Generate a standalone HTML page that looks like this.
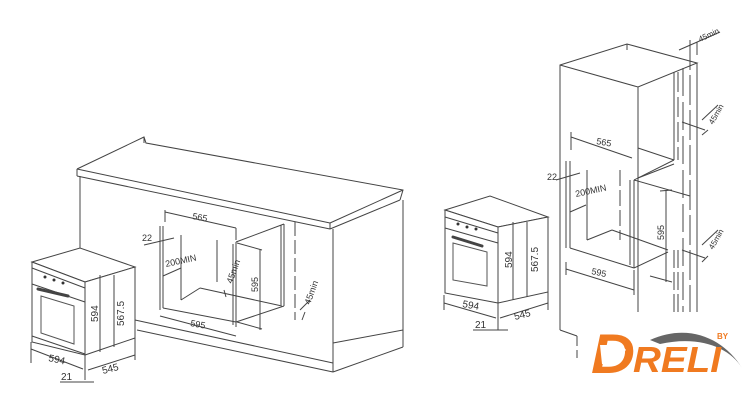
<!DOCTYPE html>
<html><head><meta charset="utf-8"><style>
html,body{margin:0;padding:0;background:#fff;}
svg{display:block}
text{font-family:"Liberation Sans",sans-serif;fill:#333;}
</style></head><body>
<svg width="749" height="412" viewBox="0 0 749 412" xmlns="http://www.w3.org/2000/svg">
<g stroke="#444" stroke-width="1" fill="none">
<!-- LEFT CABINET -->
<polyline points="77,169 144,137 146,143 403,190 400,200"/>
<polyline points="144,137 144,143"/>
<line x1="77" y1="169" x2="330" y2="223"/>
<line x1="77" y1="169" x2="77" y2="176"/>
<line x1="77" y1="176" x2="330" y2="229"/>
<line x1="330" y1="223" x2="330" y2="229"/>
<line x1="330" y1="223" x2="403" y2="190"/>
<line x1="330" y1="229" x2="400" y2="200"/>
<line x1="80" y1="176" x2="80" y2="250"/>
<line x1="333" y1="229" x2="333" y2="372"/>
<line x1="403" y1="200" x2="403" y2="347"/>
<line x1="333" y1="372" x2="403" y2="347"/>
<line x1="135" y1="320" x2="333" y2="363"/>
<line x1="137" y1="330" x2="333" y2="372"/>
<line x1="333" y1="343" x2="403" y2="330"/>
<line x1="135" y1="320" x2="135" y2="338"/>
<!-- niche -->
<line x1="160" y1="226" x2="160" y2="310"/>
<line x1="163" y1="226" x2="163" y2="308"/>
<line x1="181" y1="235" x2="181" y2="300"/>
<line x1="163" y1="308" x2="236" y2="322"/>
<line x1="181" y1="300" x2="200" y2="288"/>
<line x1="200" y1="288" x2="282" y2="306"/>
<line x1="236" y1="242" x2="236" y2="327"/>
<line x1="233" y1="244" x2="233" y2="325"/>
<line x1="236" y1="242" x2="284" y2="224"/>
<line x1="236" y1="322" x2="284" y2="306"/>
<line x1="284" y1="224" x2="284" y2="306"/>
<line x1="281" y1="225" x2="281" y2="305"/>
<line x1="295" y1="222" x2="295" y2="320" stroke-dasharray="14,4"/>
<line x1="217" y1="240" x2="217" y2="282"/>
<line x1="165" y1="212" x2="236" y2="228"/>
<line x1="165" y1="210" x2="165" y2="222"/>
<line x1="236" y1="228" x2="236" y2="240"/>
<line x1="160" y1="316" x2="236" y2="336"/>
<line x1="237" y1="243" x2="262" y2="250"/>
<line x1="237" y1="322" x2="262" y2="329"/>
<line x1="260" y1="249" x2="260" y2="330"/>
<line x1="144" y1="245" x2="174" y2="238"/>
<line x1="163" y1="276" x2="181" y2="268"/>
<line x1="224" y1="290" x2="226" y2="297"/>
<line x1="300" y1="310" x2="310" y2="300"/>
<line x1="302" y1="320" x2="305" y2="312"/>
<!-- LEFT OVEN -->
<polygon points="32,262 80,248 135,267 85,282" fill="#fff"/>
<polygon points="85,282 135,267 135,338 85,355" fill="#fff"/>
<polygon points="32,262 85,282 85,355 32,342" fill="#fff"/>
<line x1="32" y1="268" x2="85" y2="288"/>
<line x1="32" y1="284" x2="85" y2="302"/>
<polygon points="41,296 74,306 74,344 41,333" stroke="#555"/>
<line x1="38" y1="289" x2="68" y2="296" stroke-width="3" stroke-linecap="round"/>
<line x1="32" y1="336" x2="85" y2="354"/>
<line x1="100" y1="275" x2="100" y2="352"/>
<line x1="114" y1="275" x2="114" y2="347"/>
<line x1="31" y1="349" x2="83" y2="369"/>
<line x1="31" y1="342" x2="31" y2="363"/>
<line x1="85" y1="355" x2="85" y2="380"/>
<line x1="88" y1="370" x2="135" y2="355"/>
<line x1="135" y1="338" x2="135" y2="360"/>
<line x1="60" y1="382" x2="94" y2="382"/>
<!-- RIGHT OVEN -->
<polygon points="445,210 490,196 548,217 498,227" fill="#fff"/>
<polygon points="498,227 548,217 548,292 498,303" fill="#fff"/>
<polygon points="445,210 498,227 498,303 445,293" fill="#fff"/>
<line x1="445" y1="217" x2="498" y2="233"/>
<line x1="445" y1="228" x2="498" y2="243"/>
<polygon points="453,243 487,252 487,286 453,280" stroke="#555"/>
<line x1="453" y1="237" x2="482" y2="246" stroke-width="3" stroke-linecap="round"/>
<line x1="513" y1="222" x2="513" y2="300"/>
<line x1="527" y1="222" x2="527" y2="297"/>
<line x1="444" y1="303" x2="496" y2="318"/>
<line x1="444" y1="295" x2="444" y2="310"/>
<line x1="498" y1="303" x2="498" y2="330"/>
<line x1="500" y1="318" x2="548" y2="303"/>
<line x1="548" y1="292" x2="548" y2="310"/>
<line x1="473" y1="330" x2="508" y2="330"/>
<!-- TALL CABINET -->
<polyline points="560,330 560,65 627,44 697,63 638,87 560,65"/>
<line x1="638" y1="87" x2="638" y2="312"/>
<line x1="627" y1="44" x2="627" y2="50"/>
<line x1="560" y1="330" x2="577" y2="336"/>
<line x1="577" y1="336" x2="577" y2="358" stroke-dasharray="10,4"/>
<line x1="678" y1="72" x2="678" y2="160" stroke-dasharray="20,5"/>
<line x1="674" y1="72" x2="674" y2="160"/>
<line x1="683" y1="68" x2="683" y2="312" stroke-dasharray="28,6"/>
<line x1="697" y1="63" x2="697" y2="312"/>
<line x1="690" y1="40" x2="690" y2="312" stroke-dasharray="30,5"/>
<line x1="674" y1="250" x2="674" y2="312" stroke-dasharray="18,4"/>
<line x1="678" y1="250" x2="678" y2="312" stroke-dasharray="18,4"/>
<line x1="566" y1="161" x2="566" y2="248"/>
<line x1="570" y1="161" x2="570" y2="248"/>
<line x1="587" y1="170" x2="587" y2="240"/>
<line x1="570" y1="248" x2="634" y2="268"/>
<line x1="587" y1="240" x2="612" y2="230"/>
<line x1="612" y1="230" x2="668" y2="250"/>
<line x1="630" y1="180" x2="630" y2="265"/>
<line x1="634" y1="180" x2="634" y2="268"/>
<line x1="634" y1="180" x2="674" y2="160"/>
<line x1="638" y1="178" x2="674" y2="164"/>
<line x1="638" y1="148" x2="674" y2="160"/>
<line x1="634" y1="268" x2="668" y2="252"/>
<line x1="634" y1="180" x2="690" y2="196"/>
<line x1="620" y1="170" x2="620" y2="240" stroke-dasharray="16,4"/>
<line x1="571" y1="137" x2="632" y2="158"/>
<line x1="571" y1="132" x2="571" y2="150"/>
<line x1="566" y1="269" x2="634" y2="290"/>
<line x1="566" y1="262" x2="566" y2="275"/>
<line x1="634" y1="270" x2="634" y2="295"/>
<line x1="666" y1="190" x2="666" y2="282"/>
<line x1="660" y1="191" x2="672" y2="190"/>
<line x1="650" y1="276" x2="672" y2="282"/>
<line x1="556" y1="180" x2="580" y2="173"/>
<line x1="570" y1="212" x2="586" y2="205"/>
<line x1="682" y1="122" x2="705" y2="130"/>
<line x1="682" y1="250" x2="705" y2="258"/>
<line x1="702" y1="120" x2="718" y2="105"/>
<line x1="702" y1="135" x2="708" y2="130"/>
<line x1="702" y1="245" x2="718" y2="230"/>
<line x1="702" y1="262" x2="708" y2="256"/>
<line x1="679" y1="50" x2="720" y2="32"/>
<line x1="690" y1="42" x2="690" y2="55"/>
<line x1="697" y1="42" x2="697" y2="55"/>
</g>
<g fill="#333">
<circle cx="45" cy="277" r="1.5"/><circle cx="54" cy="280" r="1.5"/><circle cx="63" cy="283" r="1.5"/>
<circle cx="458" cy="224" r="1.5"/><circle cx="467" cy="227" r="1.5"/><circle cx="476" cy="229" r="1.5"/>
</g>
<g font-size="9">
<text x="192" y="219" transform="rotate(10 192 219)">565</text>
<text x="142" y="241">22</text>
<text x="166" y="267" transform="rotate(-12 166 267)">200MIN</text>
<text x="232" y="284" transform="rotate(-70 232 284)">45min</text>
<text x="258" y="292" transform="rotate(-90 258 292)">595</text>
<text x="190" y="326" transform="rotate(10 190 326)">595</text>
<text x="310" y="305" transform="rotate(-70 310 305)">45min</text>
<text x="98" y="322" font-size="10" transform="rotate(-90 98 322)">594</text>
<text x="124" y="326" font-size="10" transform="rotate(-90 124 326)">567.5</text>
<text x="48" y="361" font-size="10" transform="rotate(12 48 361)">594</text>
<text x="103" y="374" font-size="10" transform="rotate(-14 103 374)">545</text>
<text x="61" y="380" font-size="10">21</text>
<text x="512" y="268" font-size="10" transform="rotate(-90 512 268)">594</text>
<text x="538" y="272" font-size="10" transform="rotate(-90 538 272)">567.5</text>
<text x="462" y="307" font-size="10" transform="rotate(10 462 307)">594</text>
<text x="515" y="320" font-size="10" transform="rotate(-14 515 320)">545</text>
<text x="475" y="328" font-size="10">21</text>
<text x="596" y="144" transform="rotate(10 596 144)">565</text>
<text x="547" y="180">22</text>
<text x="576" y="197" transform="rotate(-12 576 197)">200MIN</text>
<text x="664" y="240" transform="rotate(-90 664 240)">595</text>
<text x="591" y="274" transform="rotate(12 591 274)">595</text>
<text x="713" y="125" font-size="8" transform="rotate(-60 713 125)">45min</text>
<text x="713" y="250" font-size="8" transform="rotate(-60 713 250)">45min</text>
<text x="700" y="42" font-size="8" transform="rotate(-25 700 42)">45min</text>
</g>
<!-- LOGO -->
<path d="M650,340 C690,322 725,340 742,368 C730,348 700,335 660,344 Z" fill="#666"/>
<text x="591" y="373" font-size="56" font-weight="bold" font-style="italic" style="fill:#f07a20" textLength="44" lengthAdjust="spacingAndGlyphs">D</text>
<text x="633" y="372" font-size="36" font-weight="bold" font-style="italic" style="fill:#f07a20" textLength="88" lengthAdjust="spacingAndGlyphs">RELI</text>
<text x="717" y="339" font-size="8" font-weight="bold" style="fill:#f07a20">BY</text>
<path d="M600,345 L622,345 L626,350 L622,354 L612,354 L608,364 L602,364 Z" fill="#fff"/>
</svg>
</body></html>
